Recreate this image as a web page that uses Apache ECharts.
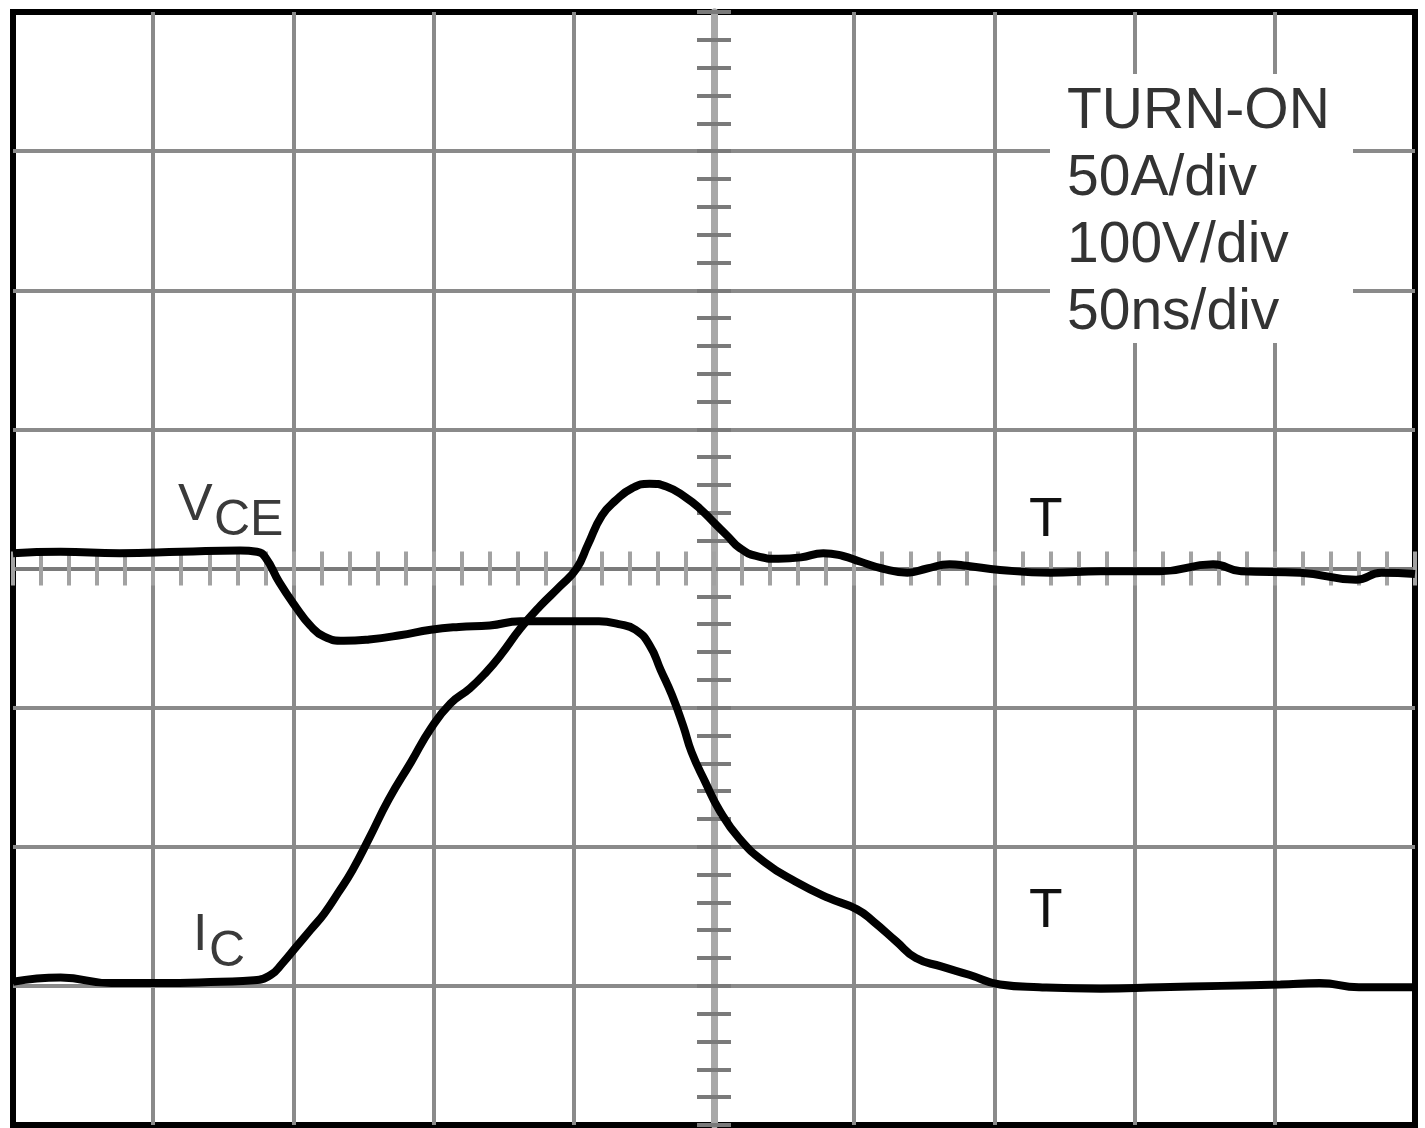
<!DOCTYPE html>
<html>
<head>
<meta charset="utf-8">
<script src="https://cdn.jsdelivr.net/npm/echarts@6/dist/echarts.min.js"></script>
<style>
html,body{margin:0;padding:0;background:#fff;}
#chart{width:1425px;height:1128px;}
</style>
</head>
<body>
<div id="chart"></div>
<script>
// Time relative to screen centre, ns (50 ns/div)
const vceTime = [-250,-233,-212,-190,-169,-163,-160,-155,-149,-144,-139,-132,-123,-112,-101,-91,-80,-69,-55,-41,-34,-28,-23,-19,-15,-11,-8,-3,2,9,18,29,41,51,57,65,72,81,91,102,116,138,159,181,202,216,230,250];
// Vertical position in divisions from centre line (100 V/div)
const vceDiv = [0.11,0.12,0.11,0.12,0.13,0.12,0.08,-0.10,-0.28,-0.41,-0.49,-0.52,-0.51,-0.48,-0.44,-0.42,-0.41,-0.38,-0.38,-0.38,-0.40,-0.44,-0.55,-0.73,-0.91,-1.13,-1.32,-1.54,-1.74,-1.94,-2.11,-2.25,-2.37,-2.45,-2.54,-2.68,-2.80,-2.86,-2.92,-2.99,-3.01,-3.02,-3.01,-3.00,-2.99,-2.98,-3.01,-3.01];

const icTime = [-250,-233,-215,-198,-176,-164,-158,-154,-149,-144,-139,-134,-129,-123,-116,-108,-101,-94,-87,-81,-76,-69,-62,-55,-49,-45,-40,-35,-29,-23,-17,-10,-5,0,5,9,15,23,31,39,46,52,60,69,76,84,90,102,120,138,159,178,188,209,229,238,250];
// Vertical position in divisions from centre line (50 A/div)
const icDiv = [-2.97,-2.94,-2.98,-2.98,-2.97,-2.96,-2.92,-2.84,-2.72,-2.60,-2.48,-2.33,-2.17,-1.94,-1.66,-1.39,-1.15,-0.97,-0.86,-0.74,-0.62,-0.43,-0.27,-0.13,0.00,0.17,0.38,0.49,0.58,0.61,0.59,0.51,0.43,0.33,0.23,0.15,0.09,0.07,0.08,0.11,0.09,0.05,0.00,-0.03,0.00,0.03,0.02,-0.01,-0.03,-0.02,-0.02,0.03,-0.02,-0.03,-0.08,-0.03,-0.04];

const infoLines = ['TURN-ON', '50A/div', '100V/div', '50ns/div'];

const xMin = -250, xMax = 250, xStep = 50;
const yMin = -4, yMax = 4, yStep = 1;

const FONT = '"Liberation Sans", Arial, Helvetica, sans-serif';

function zip(a, b) { return a.map((v, i) => [v, b[i]]); }

const gridLine = {show: true, showMinLine: false, showMaxLine: false,
  lineStyle: {color: '#8a8a8a', width: 4}};

function xAx(pos, idx, split) {
  return {
    type: 'value', min: xMin, max: xMax, interval: xStep, position: pos,
    axisLine: {show: true, onZero: true, onZeroAxisIndex: idx, lineStyle: {color: '#7a7a7a', width: 4}},
    axisTick: {show: true, length: 17, lineStyle: {color: '#a2a2a2', width: 4}},
    minorTick: {show: true, splitNumber: 5, length: 17, lineStyle: {color: '#a2a2a2', width: 4}},
    axisLabel: {show: false},
    splitLine: split ? gridLine : {show: false}
  };
}
function yAx(pos, idx, split) {
  return {
    type: 'value', min: yMin, max: yMax, interval: yStep, position: pos,
    axisLine: {show: true, onZero: true, onZeroAxisIndex: idx, lineStyle: {color: '#a8a8a8', width: 7}},
    axisTick: {show: true, length: 17, lineStyle: {color: '#7a7a7a', width: 4}},
    minorTick: {show: true, splitNumber: 5, length: 17, lineStyle: {color: '#7a7a7a', width: 4}},
    axisLabel: {show: false},
    splitLine: split ? gridLine : {show: false}
  };
}

const graphic = [
  {type: 'rect', shape: {x: 1050, y: 74, width: 303, height: 269}, style: {fill: '#fff'}, z: 10}
];
infoLines.forEach((t, i) => {
  graphic.push({type: 'text', x: 1067, y: 112 + i * 67, z: 11,
    style: {text: t, fill: '#333', font: '57px ' + FONT, align: 'left', verticalAlign: 'middle'}});
});
const labels = [
  {t: 'V', x: 178, y: 506, s: 52, c: '#3a3a3a'},
  {t: 'CE', x: 214, y: 521, s: 50, c: '#3a3a3a'},
  {t: 'I', x: 193, y: 936, s: 52, c: '#3a3a3a'},
  {t: 'C', x: 209, y: 952, s: 50, c: '#3a3a3a'},
  {t: 'T', x: 1029, y: 521, s: 55, c: '#111'},
  {t: 'T', x: 1029, y: 912, s: 55, c: '#111'}
];
labels.forEach(l => {
  graphic.push({type: 'text', x: l.x, y: l.y, z: 11,
    style: {text: l.t, fill: l.c, font: l.s + 'px ' + FONT, align: 'left', verticalAlign: 'middle'}});
});

const chart = echarts.init(document.getElementById('chart'), null, {renderer: 'canvas'});
chart.setOption({
  animation: false,
  backgroundColor: '#fff',
  grid: {left: 13, right: 10, top: 12, bottom: 3, show: true,
    borderColor: '#000', borderWidth: 6, backgroundColor: '#fff'},
  xAxis: [xAx('bottom', 0, true), xAx('top', 1, false)],
  yAxis: [yAx('left', 0, true), yAx('right', 1, false)],
  series: [
    {name: 'VCE', type: 'line', xAxisIndex: 0, yAxisIndex: 0, data: zip(vceTime, vceDiv),
     showSymbol: false, smooth: 0.5, lineStyle: {color: '#000', width: 8}, z: 5},
    {name: 'IC', type: 'line', xAxisIndex: 0, yAxisIndex: 0, data: zip(icTime, icDiv),
     showSymbol: false, smooth: 0.5, lineStyle: {color: '#000', width: 8}, z: 5}
  ],
  graphic: graphic
});
</script>
</body>
</html>
